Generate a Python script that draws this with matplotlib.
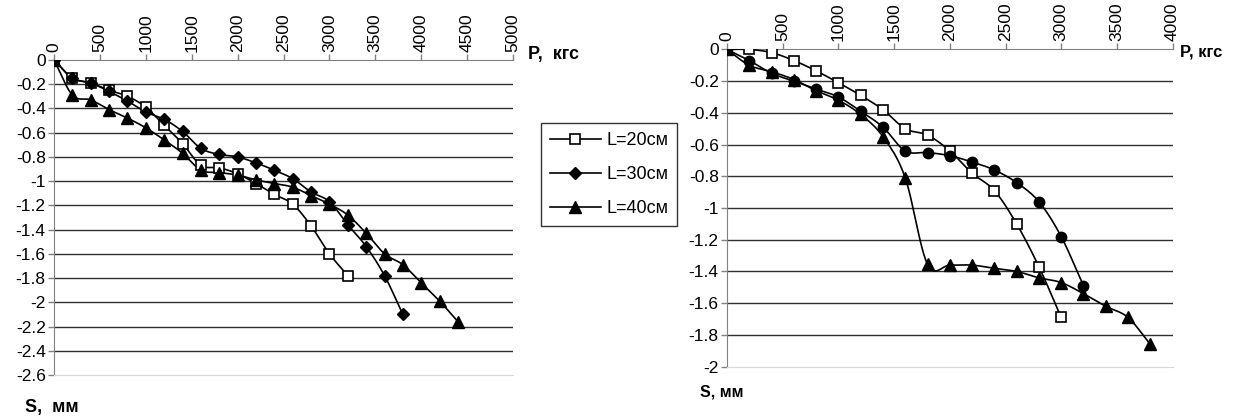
import numpy as np
import matplotlib
matplotlib.use("Agg")
import matplotlib.pyplot as plt

plt.rcParams["font.family"] = ["Liberation Sans", "DejaVu Sans"]

## data, left chart
p_left_20 = [0, 200, 400, 600, 800, 1000, 1200, 1400, 1600, 1800, 2000, 2200, 2400, 2600, 2800, 3000, 3200]
s_left_20 = [0, -0.15, -0.19, -0.25, -0.30, -0.39, -0.54, -0.69, -0.87, -0.89, -0.94, -1.02, -1.11, -1.19, -1.37, -1.60, -1.78]

p_left_30 = [0, 200, 400, 600, 800, 1000, 1200, 1400, 1600, 1800, 2000, 2200, 2400, 2600, 2800, 3000, 3200, 3400, 3600, 3800]
s_left_30 = [0, -0.15, -0.19, -0.26, -0.34, -0.43, -0.49, -0.59, -0.73, -0.78, -0.80, -0.85, -0.91, -0.98, -1.09, -1.17, -1.36, -1.54, -1.78, -2.10]

p_left_40 = [0, 200, 400, 600, 800, 1000, 1200, 1400, 1600, 1800, 2000, 2200, 2400, 2600, 2800, 3000, 3200, 3400, 3600, 3800, 4000, 4200, 4400]
s_left_40 = [0, -0.29, -0.33, -0.41, -0.48, -0.56, -0.66, -0.77, -0.91, -0.93, -0.95, -0.99, -1.02, -1.05, -1.12, -1.19, -1.28, -1.43, -1.60, -1.69, -1.84, -1.99, -2.16]

## data, right chart
p_right_20 = [0, 200, 400, 600, 800, 1000, 1200, 1400, 1600, 1800, 2000, 2200, 2400, 2600, 2800, 3000]
s_right_20 = [0, 0.0, -0.02, -0.07, -0.135, -0.21, -0.29, -0.38, -0.50, -0.54, -0.64, -0.78, -0.89, -1.10, -1.37, -1.69]

p_right_30 = [0, 200, 400, 600, 800, 1000, 1200, 1400, 1600, 1800, 2000, 2200, 2400, 2600, 2800, 3000, 3200]
s_right_30 = [0, -0.07, -0.15, -0.20, -0.25, -0.30, -0.39, -0.49, -0.64, -0.65, -0.67, -0.71, -0.76, -0.84, -0.96, -1.18, -1.49]

p_right_40 = [0, 200, 400, 600, 800, 1000, 1200, 1400, 1600, 1800, 2000, 2200, 2400, 2600, 2800, 3000, 3200, 3400, 3600, 3800]
s_right_40 = [0, -0.10, -0.14, -0.19, -0.26, -0.32, -0.41, -0.55, -0.81, -1.355, -1.36, -1.36, -1.38, -1.40, -1.44, -1.47, -1.54, -1.62, -1.69, -1.86]

labels = ["L=20см", "L=30см", "L=40см"]


def smooth(x, y, n=12):
    # catmull-rom curve through the points, like excel smoothed lines
    x = np.asarray(x, float)
    y = np.asarray(y, float)
    px = np.concatenate([[2 * x[0] - x[1]], x, [2 * x[-1] - x[-2]]])
    py = np.concatenate([[2 * y[0] - y[1]], y, [2 * y[-1] - y[-2]]])
    t = np.linspace(0, 1, n, endpoint=False)
    xs, ys = [], []
    for i in range(1, len(px) - 2):
        for arr, out in ((px, xs), (py, ys)):
            p0, p1, p2, p3 = arr[i - 1], arr[i], arr[i + 1], arr[i + 2]
            out.extend(0.5 * (2 * p1 + (-p0 + p2) * t
                              + (2 * p0 - 5 * p1 + 4 * p2 - p3) * t ** 2
                              + (-p0 + 3 * p1 - 3 * p2 + p3) * t ** 3))
    xs.append(x[-1])
    ys.append(y[-1])
    return xs, ys


def setup(ax, xmax, ymin, fs):
    ax.set_xlim(0, xmax)
    ax.set_ylim(ymin, 0)
    ax.xaxis.tick_top()
    ax.set_xticks(np.arange(0, xmax + 1, 500))
    ax.set_xticklabels([str(v) for v in np.arange(0, xmax + 1, 500)], rotation=90)
    yt = np.round(np.arange(ymin, 0.001, 0.2), 1)
    ax.set_yticks(yt)
    ax.set_yticklabels(["0" if v == 0 else "%g" % v for v in yt])
    ax.tick_params(axis="both", direction="out", length=4, width=1,
                   color="#808080", labelsize=fs, pad=2)
    for v in yt[1:-1]:
        ax.axhline(v, color="#303030", lw=1, zorder=1)
    ax.spines["right"].set_visible(False)
    ax.spines["bottom"].set_color("#d8d8d8")
    ax.spines["left"].set_color("#808080")
    ax.spines["top"].set_color("#808080")


fig = plt.figure(figsize=(12.36, 4.19), dpi=100)

## left chart
ax1 = fig.add_axes([0.0437, 0.105, 0.3714, 0.752])
setup(ax1, 5000, -2.6, 12.5)
styles = [dict(marker="s", mfc="white", mec="black", ms=7.5, mew=1.2),
          dict(marker="D", mfc="black", mec="black", ms=6.5),
          dict(marker="^", mfc="black", mec="black", ms=8.5)]
for (px, sy), st, lab in zip([(p_left_20, s_left_20), (p_left_30, s_left_30), (p_left_40, s_left_40)],
                             styles, labels):
    xs, ys = smooth(px, sy)
    ax1.plot(xs, ys, color="black", lw=1.2, zorder=3)
    ax1.plot(px, sy, ls="none", zorder=4, **st)

handles = [plt.Line2D([], [], color="black", lw=1.2, **st) for st in styles]
leg = fig.legend(handles, labels, loc="upper left", bbox_to_anchor=(541 / 1236, 1 - 123 / 419),
                 borderaxespad=0, fontsize=13, frameon=True, fancybox=False, edgecolor="black",
                 handlelength=2.8, borderpad=0.5, labelspacing=0.95, handletextpad=0.3)
leg.get_frame().set_linewidth(1)

fig.text(528 / 1236, 1 - 55 / 419, "P,  кгс", fontsize=13, fontweight="bold", va="center")
fig.text(25 / 1236, 1 - 407 / 419, "S,  мм", fontsize=13, fontweight="bold", va="center")

## right chart
ax2 = fig.add_axes([0.5882, 0.125, 0.3605, 0.757])
setup(ax2, 4000, -2.0, 12.5)
styles2 = [dict(marker="s", mfc="white", mec="black", ms=7.5, mew=1.2),
           dict(marker="o", mfc="black", mec="black", ms=7.5),
           dict(marker="^", mfc="black", mec="black", ms=8.5)]
for (px, sy), st in zip([(p_right_20, s_right_20), (p_right_30, s_right_30), (p_right_40, s_right_40)],
                        styles2):
    xs, ys = smooth(px, sy)
    ax2.plot(xs, ys, color="black", lw=1.2, zorder=3)
    ax2.plot(px, sy, ls="none", zorder=4, **st)

fig.text(1180 / 1236, 1 - 52 / 419, "P, кгс", fontsize=12, fontweight="bold", va="center")
fig.text(700 / 1236, 1 - 392 / 419, "S, мм", fontsize=11.5, fontweight="bold", va="center")

plt.savefig("out.png", dpi=100)
